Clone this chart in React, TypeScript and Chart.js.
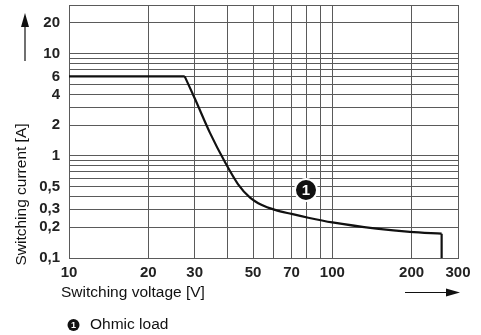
import React, { useEffect, useRef } from "react";
import { Chart, registerables } from "chart.js";

Chart.register(...registerables);

// Curve: switching voltage [V] vs switching current [A] (ohmic load)
const voltage = [10, 27.5, 30.1, 34.3, 39.1, 43.8, 48.7, 54, 60.6, 70, 81, 100, 147, 197, 260, 260];
const current = [6, 6, 3.6, 1.68, 0.87, 0.53, 0.39, 0.33, 0.296, 0.27, 0.248, 0.223, 0.194, 0.18, 0.173, 0.1];

const xGrid = [10, 20, 30, 40, 50, 60, 70, 80, 90, 100, 200, 300];
const xLabels = [10, 20, 30, 50, 70, 100, 200, 300];
const yGrid = [0.1, 0.2, 0.3, 0.4, 0.5, 0.6, 0.7, 0.8, 0.9, 1, 2, 3, 4, 5, 6, 7, 8, 9, 10, 20, 30];
const yLabels = [0.1, 0.2, 0.3, 0.5, 1, 2, 4, 6, 10, 20];

const xTitle = "Switching voltage [V]";
const yTitle = "Switching current [A]";
const legendText = "Ohmic load";
const markerText = "1";

const FONT = '"Liberation Sans", Arial, sans-serif';
const GRID = "#5a5a5a";

const decor = {
  id: "decor",
  afterDraw(chart: any) {
    const ctx = chart.ctx as CanvasRenderingContext2D;
    ctx.save();
    ctx.fillStyle = "#111";
    ctx.strokeStyle = "#111";
    // y title
    ctx.save();
    ctx.translate(22, 194.5);
    ctx.rotate(-Math.PI / 2);
    ctx.font = `15.5px ${FONT}`;
    ctx.textAlign = "center";
    ctx.textBaseline = "middle";
    ctx.fillText(yTitle, 0, 0);
    ctx.restore();
    // up arrow
    ctx.lineWidth = 1.2;
    ctx.beginPath();
    ctx.moveTo(25, 61);
    ctx.lineTo(25, 24);
    ctx.stroke();
    ctx.beginPath();
    ctx.moveTo(25, 13);
    ctx.lineTo(21, 27);
    ctx.lineTo(29, 27);
    ctx.closePath();
    ctx.fill();
    // x title
    ctx.font = `15.5px ${FONT}`;
    ctx.textAlign = "left";
    ctx.textBaseline = "middle";
    ctx.fillText(xTitle, 61, 293);
    // right arrow
    ctx.beginPath();
    ctx.moveTo(405, 292.5);
    ctx.lineTo(450, 292.5);
    ctx.stroke();
    ctx.beginPath();
    ctx.moveTo(460, 292.5);
    ctx.lineTo(446, 288.5);
    ctx.lineTo(446, 296.5);
    ctx.closePath();
    ctx.fill();
    // marker on curve
    ctx.beginPath();
    ctx.arc(306, 190, 11, 0, Math.PI * 2);
    ctx.fillStyle = "#111";
    ctx.fill();
    ctx.lineWidth = 2;
    ctx.strokeStyle = "#fff";
    ctx.stroke();
    ctx.fillStyle = "#fff";
    ctx.font = `bold 15px ${FONT}`;
    ctx.textAlign = "center";
    ctx.textBaseline = "middle";
    ctx.fillText(markerText, 306, 191);
    // legend
    ctx.beginPath();
    ctx.arc(73.5, 325, 6, 0, Math.PI * 2);
    ctx.fillStyle = "#111";
    ctx.fill();
    ctx.fillStyle = "#fff";
    ctx.font = `bold 9px ${FONT}`;
    ctx.fillText(markerText, 73.5, 325.5);
    ctx.fillStyle = "#111";
    ctx.font = `15.5px ${FONT}`;
    ctx.textAlign = "left";
    ctx.fillText(legendText, 90, 325);
    ctx.restore();
  },
};

const fmt = (v: number) => String(v).replace(".", ",");

const pts = (a: number, b: number) =>
  voltage.slice(a, b).map((v, i) => ({ x: v, y: current[a + i] }));

const lineStyle = {
  borderColor: "#111",
  borderWidth: 2.2,
  pointRadius: 0,
  fill: false,
};

export default function App() {
  const ref = useRef<HTMLCanvasElement>(null);
  useEffect(() => {
    const n = voltage.length;
    const chart = new Chart(ref.current!, {
      type: "line",
      data: {
        datasets: [
          { ...lineStyle, data: pts(0, 2), tension: 0 },
          { ...lineStyle, data: pts(1, n - 1), cubicInterpolationMode: "monotone" },
          { ...lineStyle, data: pts(n - 2, n), tension: 0 },
        ],
      },
      options: {
        responsive: false,
        animation: false,
        layout: { padding: { top: 5, right: 23, left: 0, bottom: 0 } },
        plugins: { legend: { display: false }, tooltip: { enabled: false } },
        scales: {
          x: {
            type: "logarithmic",
            min: 10,
            max: 300,
            afterBuildTicks: (s: any) => {
              s.ticks = xGrid.map((v) => ({ value: v }));
            },
            afterFit: (s: any) => {
              s.height = 77;
              s.paddingLeft = 0;
              s.paddingRight = 0;
            },
            ticks: {
              autoSkip: false,
              maxRotation: 0,
              padding: 6,
              color: "#222",
              font: { family: FONT, size: 15, weight: "bold" },
              callback: (v: any) => (xLabels.includes(Number(v)) ? String(v) : ""),
            },
            grid: { color: GRID, lineWidth: 1, drawTicks: false },
            border: { color: GRID, width: 1 },
          },
          y: {
            type: "logarithmic",
            min: 0.1,
            max: 30,
            afterBuildTicks: (s: any) => {
              s.ticks = yGrid.map((v) => ({ value: v }));
            },
            afterFit: (s: any) => {
              s.width = 69;
              s.paddingTop = 0;
              s.paddingBottom = 0;
            },
            ticks: {
              autoSkip: false,
              padding: 9,
              color: "#222",
              font: { family: FONT, size: 15, weight: "bold" },
              callback: (v: any) => (yLabels.includes(Number(v)) ? fmt(Number(v)) : ""),
            },
            grid: { color: GRID, lineWidth: 1, drawTicks: false },
            border: { color: GRID, width: 1 },
          },
        },
      },
      plugins: [decor],
    } as any);
    return () => chart.destroy();
  }, []);
  return (
    <div style={{ position: "absolute", left: 0, top: 0, width: 481, height: 335, background: "#fff" }}>
      <canvas ref={ref} width={481} height={335} />
    </div>
  );
}
